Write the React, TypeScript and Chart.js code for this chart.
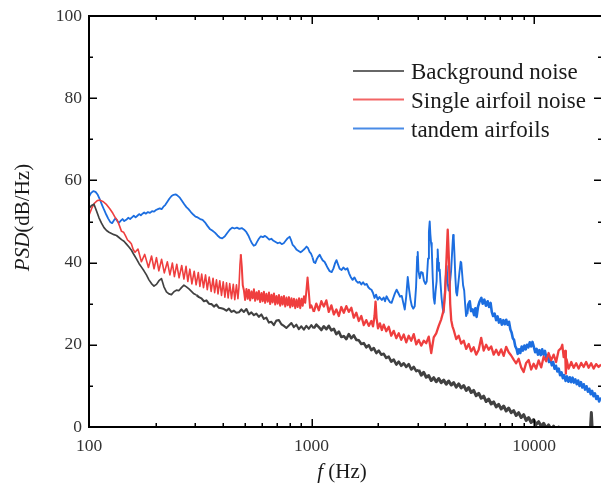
import React, { useEffect, useRef } from "react";
import { Chart, registerables } from "chart.js";

Chart.register(...registerables);

// ---------- data ----------
const SERIES_LABELS = ["Background noise", "Single airfoil noise", "tandem airfoils"];
const SERIES_COLORS = ["#414141", "#EF3E3E", "#1C6EE0"];
const X_MIN = 100;
const X_MAX = 20000;
const X_MAJOR = [100, 1000, 10000];
const X_MINOR = [200, 300, 400, 500, 600, 700, 800, 900, 2000, 3000, 4000, 5000, 6000, 7000, 8000, 9000];
const Y_MAJOR = [0, 20, 40, 60, 80, 100];
const Y_MINOR = [10, 30, 50, 70, 90];

const background: [number, number][] = [
  [100, 53.2], [102.6, 53.9], [105.3, 54.2], [108, 52.6], [110.9, 50.9], [113.8, 49.6], [116.8, 48.5],
  [119.9, 47.8], [123, 47.4], [126.2, 47.1], [129.5, 46.8], [132.9, 46.6], [136.4, 46.1], [140, 45.6],
  [143.6, 45.2], [147.4, 44.5], [151.2, 43.8], [155.2, 43.0], [159.3, 41.9], [163.4, 40.9], [167.7, 39.8],
  [172.1, 38.9], [176.6, 38.0], [181.2, 37.0], [186, 35.8], [190.9, 34.9], [195.9, 34.3], [201, 34.7],
  [206.3, 35.6], [211.7, 36.1], [217.2, 34.1], [222.9, 32.9], [228.7, 32.4], [234.7, 32.2], [240.9, 32.9],
  [247.2, 33.3], [253.7, 33.2], [260.3, 33.9], [267.1, 34.5], [274.1, 34.1], [281.3, 33.6], [288.7, 33.0],
  [296.2, 32.4], [304, 32.1], [312, 31.6], [320.2, 31.3], [328.5, 30.6], [337.1, 30.8], [345.9, 30.0],
  [355, 29.9], [364.3, 29.3], [373.9, 29.8], [383.6, 29.0], [393.7, 28.9], [404, 28.7], [414.6, 28.3],
  [425.4, 28.8], [436.6, 28.0], [448, 28.3], [459.7, 27.8], [471.7, 27.9], [484.1, 28.6], [496.8, 28.0],
  [509.8, 28.7], [523.1, 27.4], [536.8, 27.9], [550.9, 27.2], [565.3, 27.6], [580.1, 26.8], [595.3, 27.4],
  [610.9, 26.3], [626.9, 26.6], [643.3, 25.4], [660.1, 25.6], [677.4, 24.8], [695.2, 25.9], [713.4, 26.0],
  [732, 25.0], [751.2, 24.6], [770.8, 24.1], [791.1, 24.7], [811.8, 25.3], [833.1, 24.3], [854.9, 24.9],
  [877.3, 23.8], [900.2, 24.5], [923.8, 23.7], [948, 24.6], [972.8, 23.9], [998.3, 24.8], [1024, 24.0],
  [1051, 24.9], [1079, 24.3], [1107, 23.6], [1136, 24.5], [1166, 23.8], [1196, 24.6], [1228, 23.5],
  [1260, 23.9], [1293, 22.6], [1327, 23.2], [1361, 21.9], [1397, 22.1], [1434, 21.4], [1471, 22.6],
  [1510, 21.6], [1549, 22.3], [1590, 21.2], [1631, 21.1], [1674, 20.2], [1718, 20.4], [1763, 19.4],
  [1809, 19.9], [1857, 18.7], [1905, 19.2], [1955, 18.0], [2006, 18.6], [2058, 17.6], [2112, 17.8],
  [2168, 16.8], [2224, 17.1], [2282, 15.9], [2342, 16.4], [2404, 15.2], [2467, 15.9], [2531, 14.9],
  [2598, 15.5], [2666, 14.6], [2735, 15.3], [2807, 14.0], [2880, 14.6], [2956, 13.6], [3033, 13.9],
  [3112, 12.6], [3194, 13.3], [3278, 12.1], [3364, 12.5], [3452, 11.3], [3542, 12.0], [3635, 11.0],
  [3730, 11.8], [3828, 10.8], [3928, 11.4], [4031, 10.4], [4136, 11.2], [4245, 10.2], [4356, 10.8],
  [4470, 9.7], [4587, 10.5], [4707, 9.5], [4830, 10.1], [4957, 8.9], [5087, 9.6], [5220, 8.4], [5356, 8.9],
  [5497, 7.6], [5641, 8.2], [5788, 7.0], [5940, 7.5], [6095, 6.2], [6255, 6.8], [6419, 5.6], [6587, 6.1],
  [6759, 4.9], [6937, 5.5], [7119, 4.4], [7305, 5.1], [7496, 3.9], [7692, 4.6], [7894, 3.5], [8101, 4.0],
  [8313, 2.8], [8530, 3.5], [8754, 2.3], [8983, 3.0], [9218, 1.6], [9460, 2.3], [9707, 1.1], [9962, 1.8],
  [10220, 0.6], [10490, 1.3], [10770, 0.2], [11050, 0.9], [11340, -0.3], [11630, 0.5], [11940, -0.6],
  [12250, 0.2], [12570, -0.9], [12900, 0.0], [13240, -1.2], [13590, -0.5], [13950, -1.5], [14310, -0.8],
  [15070, -1.5], [15870, -1.0], [16710, -1.5], [17900, -1.0], [18100, 3.5], [18300, -1.5], [19000, -2],
  [20000, -2],
];

const single: [number, number][] = [
  [100, 51.5], [103, 53.3], [106, 54.5], [109, 55.1], [112, 55.2], [116, 54.8], [120, 54.1], [124, 53.1],
  [128, 52.0], [131, 51.0], [134, 50.3], [137, 49.0], [140, 47.6], [143, 47.4], [146, 46.5], [149, 45.5],
  [152, 45.1], [155, 44.6], [158, 43.2], [161, 42.5],
  [166, 43.3], [172, 40.2], [178, 42.0], [185, 38.8], [191, 41.6], [196, 38.5], [201, 41.2], [206, 38.0],
  [212, 40.8], [218, 37.5], [225, 40.2], [231, 37.0], [237, 39.9], [242, 36.6], [248, 39.6], [254, 36.3],
  [261, 39.3], [267, 36.0], [273, 39.1], [278, 35.4], [284, 38.4], [290, 34.8], [297, 37.9], [303, 34.6],
  [310, 37.6], [315, 34.2], [321, 37.2], [327, 33.9], [334, 37.0], [340, 33.4], [347, 36.5], [354, 33.0],
  [361, 36.2], [367, 32.7], [374, 35.8], [380, 32.4], [387, 35.6], [394, 32.0], [401, 35.3], [408, 31.6],
  [415, 35.1], [422, 31.4], [429, 34.9], [437, 31.2], [445, 34.7], [452, 31.0], [460, 34.6], [467, 31.2],
  [472, 34.0], [477, 39.5], [481, 42.0], [486, 39.0], [491, 34.5],
  [497, 33.2], [503, 30.9], [510, 33.6], [517, 31.2], [523, 33.4], [530, 30.8], [537, 33.0], [544, 31.3],
  [551, 33.5], [558, 30.7], [566, 32.8], [573, 31.0], [580, 33.1], [588, 30.4], [596, 32.6], [604, 30.6],
  [611, 32.9], [619, 30.2], [627, 32.4], [636, 30.5], [644, 32.7], [652, 29.9], [661, 32.2], [669, 30.3],
  [678, 32.5], [687, 29.8], [696, 31.9], [705, 30.0], [714, 32.1], [723, 29.5], [733, 31.7], [742, 29.8],
  [752, 31.9], [762, 29.3], [772, 31.5], [782, 29.6], [792, 31.6], [802, 29.1], [813, 31.3], [823, 29.4],
  [834, 31.2], [845, 28.9], [856, 31.0], [867, 29.2], [879, 31.3], [890, 28.9], [902, 31.2], [913, 29.5],
  [925, 31.8], [937, 30.2], [948, 33.0], [960, 36.4], [972, 33.0],
  [985, 29.0], [998.3, 29.6], [1024, 28.0], [1051, 30.0], [1079, 28.4], [1107, 30.6], [1136, 29.3],
  [1166, 30.8], [1196, 28.0], [1228, 29.6], [1260, 27.4], [1293, 28.6], [1327, 27.0], [1361, 29.2],
  [1397, 27.8], [1434, 29.4], [1471, 28.0], [1510, 29.0], [1549, 26.6], [1590, 27.8], [1631, 25.8],
  [1674, 27.0], [1718, 24.8], [1763, 26.0], [1809, 24.6], [1857, 25.8], [1890, 24.5], [1920, 27.0],
  [1940, 30.5], [1960, 26.5], [1990, 24.0], [2030, 25.2], [2070, 23.6], [2112, 24.9], [2168, 23.3],
  [2224, 24.4], [2282, 22.2], [2342, 23.4], [2404, 21.6], [2467, 22.8], [2531, 21.2], [2598, 22.5],
  [2666, 20.6], [2735, 22.2], [2807, 21.0], [2880, 22.6], [2956, 20.1], [3033, 21.2], [3112, 19.8],
  [3194, 21.0], [3278, 20.4], [3364, 22.0], [3452, 18.0], [3542, 21.8], [3635, 22.8], [3730, 24.6],
  [3828, 26.2], [3928, 28.5], [3990, 33.0], [4040, 40.6], [4094, 48.0], [4150, 40.0], [4200, 30.0],
  [4245, 26.0], [4300, 24.5], [4356, 23.6], [4470, 21.4], [4587, 22.2], [4707, 20.3], [4830, 21.0],
  [4957, 19.0], [5087, 20.2], [5220, 18.4], [5356, 19.4], [5497, 17.6], [5641, 18.8], [5788, 21.7],
  [5940, 18.6], [6095, 20.0], [6255, 18.8], [6419, 19.6], [6587, 17.6], [6759, 18.8], [6937, 17.5],
  [7119, 18.9], [7305, 17.3], [7496, 19.5], [7692, 18.2], [7894, 17.4], [8101, 16.4], [8313, 15.5],
  [8530, 16.6], [8754, 14.5], [8983, 13.4], [9218, 15.6], [9460, 16.3], [9707, 14.0], [9962, 15.4],
  [10220, 14.2], [10490, 16.2], [10770, 14.5], [11050, 17.1], [11340, 16.0], [11630, 18.0], [11940, 16.2],
  [12250, 17.6], [12570, 15.8], [12900, 18.6], [13240, 19.2], [13400, 20.0], [13590, 17.0], [13800, 18.5],
  [13900, 13.0], [14000, 16.5], [14310, 14.2], [14700, 15.8], [15070, 14.4], [15470, 15.5], [15870, 14.2],
  [16290, 15.6], [16710, 14.6], [17150, 15.8], [17600, 14.4], [18060, 15.5], [18530, 14.2], [19010, 15.3],
  [19510, 14.6], [20000, 15.2],
];

const tandem: [number, number][] = [
  [100, 56.0], [102, 56.9], [104.5, 57.4], [107, 57.2], [109.5, 56.5], [112, 55.3], [114.5, 54.0],
  [117, 52.8], [119.5, 51.7], [122, 50.7], [124.5, 49.9], [127, 49.6], [129.5, 50.3], [131.5, 50.8],
  [134, 50.1], [136.5, 49.7], [139, 50.2], [141.5, 50.6], [144, 50.1], [147, 50.4], [150, 50.9],
  [153, 50.6], [156, 51.0], [159, 51.4], [162, 51.0], [165, 51.4], [168, 51.8], [171, 51.5], [174, 51.9],
  [177, 52.2], [180, 51.9], [184, 52.3], [188, 52.1], [192, 52.5], [196, 52.4], [200, 52.8], [204, 53.0],
  [208, 53.2], [212, 53.0], [216, 53.6], [220, 54.0], [225, 54.8], [230, 55.6], [235, 56.2], [240, 56.5],
  [245, 56.6], [250, 56.3], [256, 55.8], [262, 55.0], [268, 54.2], [274, 53.5], [280, 53.0], [287, 52.3],
  [294, 51.7], [301, 51.2], [308, 51.0], [316, 50.6], [324, 50.4], [332, 49.8], [340, 49.0], [349, 48.2],
  [358, 47.8], [368, 47.3], [378, 46.6], [387, 46.1], [397, 45.9], [408, 46.4], [418, 47.2], [429, 48.0],
  [440, 48.5], [451, 48.3], [462, 48.5], [474, 48.2], [486, 48.4], [498, 48.0], [510, 47.4], [520, 46.6],
  [530, 45.6], [540, 44.7], [550, 44.1], [560, 44.3], [570, 45.1], [580, 45.8], [592, 46.4], [605, 46.2],
  [618, 46.5], [632, 46.1], [646, 45.6], [660, 45.8], [675, 45.3], [690, 45.0], [705, 44.7], [720, 44.9],
  [735, 44.5], [750, 44.7], [765, 45.3], [780, 45.9], [798, 46.3], [810, 45.4], [823, 44.3], [840, 43.8],
  [858, 43.1], [875, 42.8], [893, 42.5], [912, 42.9], [930, 43.3], [950, 43.9], [965, 43.5], [980, 42.6],
  [995, 42.2], [1010, 41.3], [1025, 40.1], [1040, 39.9], [1055, 40.8], [1070, 41.4], [1088, 41.9],
  [1105, 41.2], [1124, 40.5], [1144, 40.2], [1165, 39.4], [1185, 38.6], [1207, 37.9], [1232, 37.7],
  [1255, 38.6], [1275, 39.8], [1295, 40.6], [1315, 39.6], [1338, 38.5], [1365, 38.2], [1390, 38.8],
  [1420, 38.3], [1450, 38.6], [1475, 37.4], [1500, 36.5], [1530, 35.8], [1560, 36.4], [1590, 35.5],
  [1620, 35.1], [1646, 35.3], [1675, 34.7], [1705, 35.2], [1735, 34.6], [1770, 34.8], [1800, 34.0],
  [1830, 33.6], [1860, 33.4], [1890, 32.6], [1920, 31.4], [1950, 32.2], [1985, 31.0], [2020, 31.6],
  [2070, 30.9], [2110, 31.5], [2140, 30.6], [2174, 31.8], [2210, 31.1], [2250, 30.4], [2290, 30.2],
  [2330, 31.4], [2370, 32.5], [2413, 33.4], [2455, 32.6], [2500, 31.7], [2545, 31.9], [2585, 30.2],
  [2625, 28.6], [2665, 31.8], [2707, 36.5], [2745, 33.5], [2785, 31.0], [2823, 29.5], [2865, 28.8],
  [2910, 29.4], [2950, 34.0], [2985, 41.5], [3002, 42.6], [3025, 38.0], [3064, 36.2], [3110, 37.7],
  [3160, 37.5], [3200, 35.6], [3250, 34.8], [3294, 35.4], [3340, 41.0], [3370, 47.5], [3398, 50.0],
  [3420, 47.0], [3445, 44.8], [3470, 43.5], [3505, 36.5], [3540, 31.5], [3576, 30.0], [3610, 33.0],
  [3650, 35.5], [3670, 41.0], [3690, 43.2], [3715, 40.0], [3740, 38.0], [3769, 38.3], [3800, 35.0],
  [3840, 31.5], [3885, 29.0], [3920, 27.8], [3960, 31.5], [4010, 36.5], [4050, 39.2], [4090, 35.0],
  [4136, 33.2], [4180, 34.5], [4240, 38.0], [4300, 44.0], [4330, 46.7], [4356, 46.0], [4390, 42.0],
  [4430, 36.5], [4470, 32.8], [4510, 32.0], [4560, 34.5], [4620, 37.5], [4680, 40.2], [4710, 40.0],
  [4750, 37.5], [4800, 34.5], [4855, 33.2], [4900, 30.0], [4950, 27.0], [5000, 27.5], [5060, 29.8],
  [5142, 30.6], [5210, 28.2], [5300, 28.6], [5380, 27.2], [5450, 28.9], [5520, 26.8], [5600, 29.2],
  [5700, 30.6], [5800, 31.4], [5880, 30.0], [5980, 31.0], [6080, 29.5], [6190, 30.6], [6280, 29.2],
  [6380, 30.2], [6460, 28.0], [6550, 27.0], [6650, 27.6], [6760, 26.0], [6860, 26.9], [6960, 25.4],
  [7060, 26.2], [7170, 24.9], [7280, 26.0], [7390, 25.0], [7500, 26.1], [7610, 24.9], [7720, 25.6],
  [7830, 23.7], [7930, 23.0], [8030, 21.6], [8130, 21.2], [8240, 19.6], [8350, 19.0], [8450, 17.8],
  [8560, 18.9], [8680, 18.0], [8800, 19.6], [8920, 18.6], [9050, 19.8], [9180, 18.9], [9300, 20.0],
  [9440, 19.4], [9570, 20.6], [9700, 19.6], [9840, 20.7], [9980, 19.5], [10120, 18.2], [10270, 19.0],
  [10420, 17.6], [10570, 18.7], [10720, 17.5], [10880, 18.9], [11040, 17.6], [11200, 18.5], [11360, 16.8],
  [11520, 17.3], [11680, 15.8], [11850, 16.6], [12020, 15.0], [12200, 15.8], [12370, 14.2], [12550, 14.9],
  [12730, 13.5], [12910, 14.2], [13100, 12.6], [13290, 13.3], [13480, 11.9], [13670, 12.6], [13870, 11.2],
  [14070, 12.3], [14270, 11.0], [14480, 12.1], [14690, 10.9], [14900, 12.0], [15120, 10.8], [15340, 11.6],
  [15560, 10.4], [15790, 11.3], [16020, 10.0], [16250, 10.9], [16490, 9.6], [16730, 10.4], [16970, 9.1],
  [17220, 9.9], [17470, 8.6], [17720, 9.3], [17980, 8.0], [18240, 8.8], [18510, 7.5], [18780, 8.2],
  [19050, 6.8], [19330, 7.5], [19610, 6.2], [19900, 6.9], [20000, 6.5],
];

const SERIES = [background, single, tandem];

// line thickness (style only) by frequency band for each series: [upToHz, width]
const WIDTH_BANDS: [number, number][][] = [
  [[300, 1.7], [1000, 2.1], [3000, 2.6], [Infinity, 3.0]],
  [[480, 1.6], [1000, 2.0], [Infinity, 2.3]],
  [[1000, 1.8], [5000, 1.9], [Infinity, 2.6]],
];

// ---------- styling ----------
const SERIF = "'Liberation Serif', 'Times New Roman', serif";
const CANVAS_W = 601;
const CANVAS_H = 486;

const framePlugin = {
  id: "frameAndLabels",
  afterDatasetsDraw(chart: any) {
    const { ctx, chartArea: a, scales } = chart;
    const xs = scales.x;
    const ys = scales.y;
    ctx.save();
    ctx.strokeStyle = "#000";
    ctx.lineCap = "butt";

    // ticks (inward)
    ctx.lineWidth = 1.5;
    ctx.beginPath();
    const xTick = (v: number, len: number) => {
      const px = Math.round(xs.getPixelForValue(v)) + 0.25;
      ctx.moveTo(px, a.bottom);
      ctx.lineTo(px, a.bottom - len);
      ctx.moveTo(px, a.top);
      ctx.lineTo(px, a.top + len);
    };
    X_MINOR.forEach((v) => xTick(v, 4));
    X_MAJOR.forEach((v) => xTick(v, 8));
    const yTick = (v: number, len: number) => {
      const py = Math.round(ys.getPixelForValue(v)) + 0.25;
      ctx.moveTo(a.left, py);
      ctx.lineTo(a.left + len, py);
      ctx.moveTo(a.right + 1, py);
      ctx.lineTo(a.right + 1 - len, py);
    };
    Y_MINOR.forEach((v) => yTick(v, 4));
    Y_MAJOR.forEach((v) => yTick(v, 8));
    ctx.stroke();

    // axis lines: left, bottom, top (right one lies beyond the canvas)
    ctx.lineWidth = 2;
    ctx.beginPath();
    ctx.moveTo(a.left, a.top);
    ctx.lineTo(a.right + 2, a.top);
    ctx.moveTo(a.left, a.top - 1);
    ctx.lineTo(a.left, a.bottom + 1);
    ctx.moveTo(a.left, a.bottom);
    ctx.lineTo(a.right + 2, a.bottom);
    ctx.stroke();

    // legend
    const legendX1 = 353;
    const legendX2 = 404;
    const rowsY = [71, 99.5, 128.5];
    chart.data.datasets.forEach((ds: any, i: number) => {
      ctx.save();
      ctx.globalAlpha = 0.8;
      ctx.strokeStyle = ds.borderColor;
      ctx.lineWidth = 2;
      ctx.beginPath();
      ctx.moveTo(legendX1, rowsY[i]);
      ctx.lineTo(legendX2, rowsY[i]);
      ctx.stroke();
      ctx.restore();
      ctx.fillStyle = "#1a1a1a";
      ctx.font = `23px ${SERIF}`;
      ctx.textAlign = "left";
      ctx.textBaseline = "alphabetic";
      ctx.fillText(ds.label, 411, rowsY[i] + 8);
    });

    // y title: PSD(dB/Hz)
    const italic = `italic 21px ${SERIF}`;
    const normal = `21px ${SERIF}`;
    ctx.fillStyle = "#1a1a1a";
    ctx.textAlign = "left";
    ctx.textBaseline = "alphabetic";
    ctx.save();
    ctx.translate(29, (a.top + a.bottom) / 2 - 4);
    ctx.rotate(-Math.PI / 2);
    ctx.font = italic;
    const w1 = ctx.measureText("PSD").width;
    ctx.font = normal;
    const w2 = ctx.measureText("(dB/Hz)").width;
    const sx = -(w1 + w2) / 2;
    ctx.font = italic;
    ctx.fillText("PSD", sx, 0);
    ctx.font = normal;
    ctx.fillText("(dB/Hz)", sx + w1, 0);
    ctx.restore();

    // x title: f (Hz)
    ctx.font = italic;
    const f1 = ctx.measureText("f").width;
    ctx.font = normal;
    const f2 = ctx.measureText(" (Hz)").width;
    const cx = 342;
    const bx = cx - (f1 + f2) / 2;
    ctx.font = italic;
    ctx.fillText("f", bx, 478);
    ctx.font = normal;
    ctx.fillText(" (Hz)", bx + f1, 478);

    ctx.restore();
  },
};

export default function App() {
  const canvasRef = useRef<HTMLCanvasElement | null>(null);

  useEffect(() => {
    const canvas = canvasRef.current;
    if (!canvas) return;
    const chart = new Chart(canvas, {
      type: "line",
      data: {
        datasets: SERIES.map((s, i) => ({
          label: SERIES_LABELS[i],
          data: s.map(([x, y]) => ({ x, y })),
          borderColor: SERIES_COLORS[i],
          backgroundColor: SERIES_COLORS[i],
          borderWidth: 1.7,
          pointRadius: 0,
          tension: 0,
          fill: false,
          borderJoinStyle: "round",
          segment: {
            borderWidth: (c: any) => {
              const f = c.p0.parsed.x;
              const band = WIDTH_BANDS[i].find(([lim]) => f < lim);
              return band ? band[1] : 1.7;
            },
          },
        })),
      },
      options: {
        animation: false,
        responsive: false,
        devicePixelRatio: 1,
        layout: { padding: { top: 16, right: 0, bottom: 0, left: 0 } },
        plugins: {
          legend: { display: false },
          tooltip: { enabled: false },
          title: { display: false },
        },
        scales: {
          x: {
            type: "logarithmic",
            min: X_MIN,
            max: X_MAX,
            grid: { display: false, drawTicks: false },
            border: { display: false },
            ticks: {
              autoSkip: false,
              maxRotation: 0,
              padding: 9,
              color: "#333",
              font: { family: SERIF, size: 17.5 },
              callback: (v: any) => (X_MAJOR.includes(Number(v)) ? String(v) : ""),
            },
            afterFit: (s: any) => {
              s.height = CANVAS_H - 427;
              s.paddingRight = 0;
              s.paddingLeft = 0;
            },
          },
          y: {
            type: "linear",
            min: 0,
            max: 100,
            grid: { display: false, drawTicks: false },
            border: { display: false },
            ticks: {
              stepSize: 20,
              padding: 7,
              color: "#333",
              font: { family: SERIF, size: 17.5 },
            },
            afterFit: (s: any) => {
              s.width = 89;
              s.paddingTop = 0;
              s.paddingBottom = 0;
            },
          },
        },
      },
      plugins: [framePlugin],
    });
    return () => chart.destroy();
  }, []);

  return (
    <div style={{ position: "absolute", left: 0, top: 0, width: CANVAS_W, height: CANVAS_H, background: "#fff" }}>
      <canvas ref={canvasRef} width={CANVAS_W} height={CANVAS_H} style={{ display: "block" }} />
    </div>
  );
}
